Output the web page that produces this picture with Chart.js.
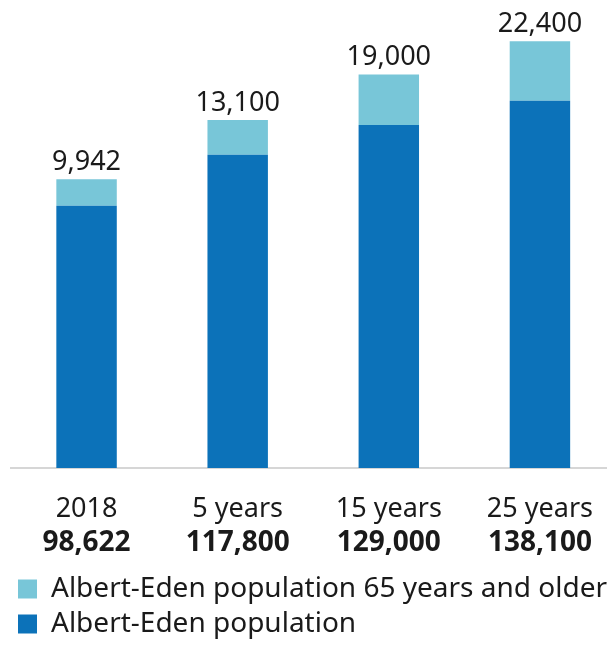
<!DOCTYPE html>
<html>
<head>
<meta charset="utf-8">
<title>Albert-Eden population projection</title>
<script src="https://cdn.jsdelivr.net/npm/chart.js@4.4.1/dist/chart.umd.min.js"></script>
<style>
  html, body { margin: 0; padding: 0; background: #fff; overflow: hidden; }
  #frame { width: 607px; height: 645px; overflow: hidden; }
  canvas { display: block; }
</style>
</head>
<body>
<div id="frame">
  <!-- a little wider/taller than the frame so the axis line runs off the right edge -->
  <canvas id="popChart" width="617" height="648"></canvas>
</div>
<script>
const categories = ['2018', '5 years', '15 years', '25 years'];
const totalPopulation = [98622, 117800, 129000, 138100];
const olderPopulation = [9942, 13100, 19000, 22400];

const darkBlue = '#0c72b9';
const lightBlue = '#78c6d8';
const textColor = '#1a1a1a';
const axisGrey = '#d6d6d6';
const fontFamily = '"Noto Sans", sans-serif';

const tickPad = 24;
const tickSize = 27;
const tickLineHeight = 1.27;

// draws the 65+ numbers above the bars and the bold totals under the years
const barLabels = {
  id: 'barLabels',
  afterDraw(chart) {
    const ctx = chart.ctx;
    const xScale = chart.scales.x;
    const topMeta = chart.getDatasetMeta(1);

    ctx.save();
    ctx.fillStyle = textColor;
    ctx.textAlign = 'center';

    ctx.font = '27px ' + fontFamily;
    ctx.textBaseline = 'alphabetic';
    topMeta.data.forEach((bar, i) => {
      ctx.fillText(olderPopulation[i].toLocaleString('en-US'), bar.x, bar.y - 9);
    });

    ctx.font = 'bold 28px ' + fontFamily;
    ctx.textBaseline = 'middle';
    const y = xScale.top + tickPad + tickSize * tickLineHeight * 1.5;
    categories.forEach((c, i) => {
      ctx.fillText(totalPopulation[i].toLocaleString('en-US'), xScale.getPixelForTick(i), y);
    });
    ctx.restore();
  }
};

const ctx = document.getElementById('popChart').getContext('2d');

new Chart(ctx, {
  type: 'bar',
  data: {
    labels: categories,
    datasets: [
      {
        label: 'Albert-Eden population',
        data: totalPopulation,
        backgroundColor: darkBlue
      },
      {
        label: 'Albert-Eden population 65 years and older',
        data: olderPopulation,
        backgroundColor: lightBlue
      }
    ]
  },
  options: {
    responsive: false,
    animation: false,
    layout: {
      padding: { left: 11, right: 0, top: 0, bottom: 0 }
    },
    datasets: {
      bar: { categoryPercentage: 1, barPercentage: 0.4 }
    },
    scales: {
      x: {
        stacked: true,
        grid: { display: false, drawTicks: false },
        border: { display: true, color: axisGrey, width: 2 },
        ticks: {
          color: textColor,
          padding: tickPad,
          font: { family: fontFamily, size: tickSize, lineHeight: tickLineHeight },
          callback: (value, index) => [categories[index], '']
        },
        afterFit: (scale) => { scale.height = 100; }
      },
      y: {
        stacked: true,
        display: false,
        min: 0,
        max: 176000
      }
    },
    plugins: {
      legend: {
        position: 'bottom',
        align: 'start',
        reverse: true,
        labels: {
          boxWidth: 19,
          boxHeight: 19,
          padding: 7,
          color: textColor,
          font: { family: fontFamily, size: 28 }
        }
      },
      tooltip: { enabled: false }
    }
  },
  plugins: [barLabels]
});
</script>
</body>
</html>
